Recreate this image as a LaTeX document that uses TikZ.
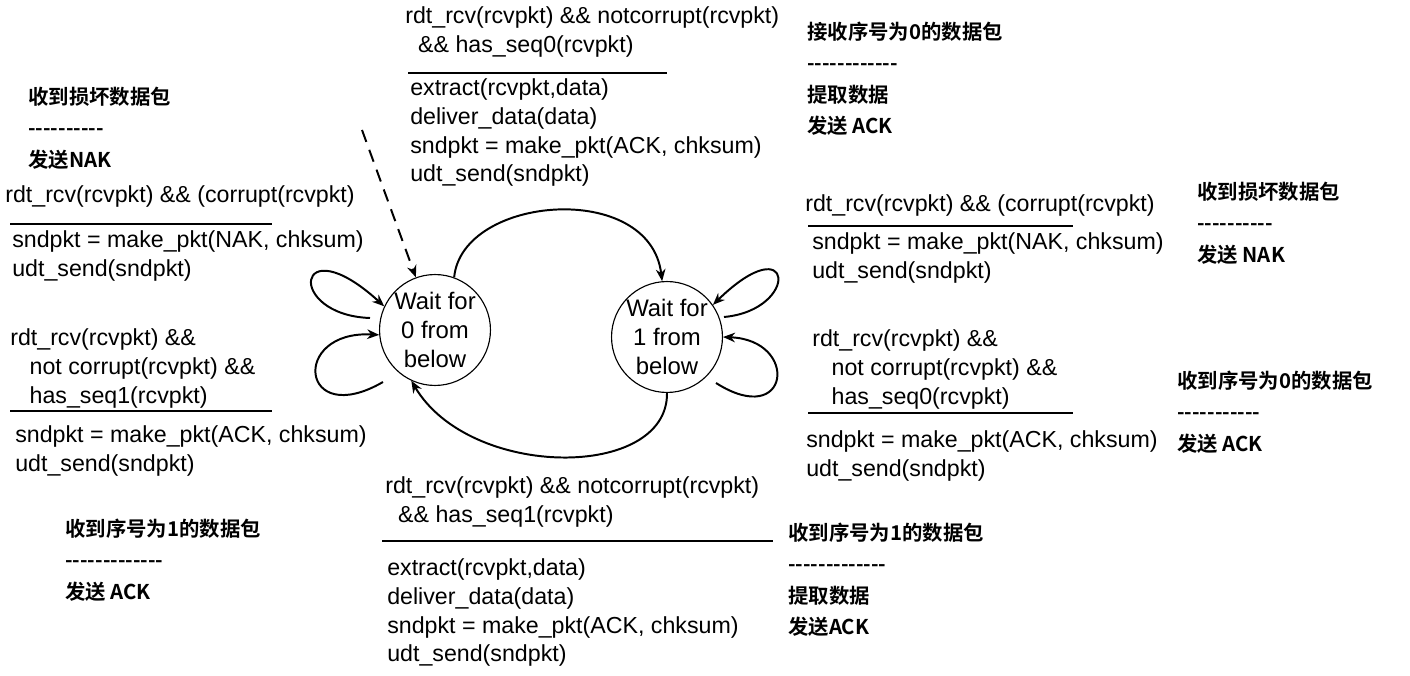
\documentclass[tikz,border=0pt]{standalone}
\usepackage{fontspec}
\setmainfont{Liberation Sans}
\newfontfamily\cjk{Noto Sans CJK SC}[BoldFont={Noto Sans CJK SC Bold}]
\usetikzlibrary{arrows.meta, positioning}

\begin{document}
\begin{tikzpicture}[
    x=0.025cm, y=-0.025cm,
    state/.style={circle, draw, thick, minimum size=2.6cm, inner sep=0pt, align=center, font=\fontsize{17}{20.5}\selectfont},
    code/.style={anchor=north west, align=left, inner sep=0pt, font=\fontsize{16.5}{20.6}\selectfont},
    note/.style={anchor=north west, align=left, inner sep=0pt, font=\cjk\bfseries\fontsize{14.5}{22.2}\selectfont},
    rule/.style={line width=1.6pt},
    arrow/.style={-{Stealth[length=3mm, width=2.4mm]}, line width=1.4pt}
]
\useasboundingbox (0,0) rectangle (1410,676);

% States
\node[state] (w0) at (435,330) {Wait for\\0 from\\below};
\node[state] (w1) at (667,337) {Wait for\\1 from\\below};

% Top transition
\node[code] (t0) at (405,6) {rdt\_rcv(rcvpkt) \&\& notcorrupt(rcvpkt)\\\ \ \&\& has\_seq0(rcvpkt)};
\draw[rule] (408,73) -- (667,73);
\node[code] (t0a) at (410,78) {extract(rcvpkt,data)\\deliver\_data(data)\\sndpkt = make\_pkt(ACK, chksum)\\udt\_send(sndpkt)};
\node[note] (n0) at (807,22) {接收序号为0的数据包\\------------\\提取数据\\发送 ACK};

% Left transitions
\node[note] (nl0) at (28,87) {收到损坏数据包\\----------\\发送NAK};
\node[code] (l0) at (5,185) {rdt\_rcv(rcvpkt) \&\& (corrupt(rcvpkt)};
\draw[rule] (10,224) -- (272,224);
\node[code] (l0a) at (12,230) {sndpkt = make\_pkt(NAK, chksum)\\udt\_send(sndpkt)};
\node[code] (l1) at (10,328) {rdt\_rcv(rcvpkt) \&\&\\\ \ \ not corrupt(rcvpkt) \&\&\\\ \ \ has\_seq1(rcvpkt)};
\draw[rule] (10,411) -- (272,411);
\node[code] (l1a) at (15,425) {sndpkt = make\_pkt(ACK, chksum)\\udt\_send(sndpkt)};
\node[note] (nl1) at (65,519) {收到序号为1的数据包\\-------------\\发送 ACK};

% Right transitions
\node[code] (r0) at (805,194) {rdt\_rcv(rcvpkt) \&\& (corrupt(rcvpkt)};
\draw[rule] (808,226) -- (1073,226);
\node[code] (r0a) at (812,232) {sndpkt = make\_pkt(NAK, chksum)\\udt\_send(sndpkt)};
\node[note] (nr0) at (1197,182) {收到损坏数据包\\----------\\发送 NAK};
\node[code] (r1) at (812,329) {rdt\_rcv(rcvpkt) \&\&\\\ \ \ not corrupt(rcvpkt) \&\&\\\ \ \ has\_seq0(rcvpkt)};
\draw[rule] (808,413) -- (1073,413);
\node[code] (r1a) at (806,430) {sndpkt = make\_pkt(ACK, chksum)\\udt\_send(sndpkt)};
\node[note] (nr1) at (1177,371) {收到序号为0的数据包\\-----------\\发送 ACK};

% Bottom transition
\node[code] (b0) at (385,476) {rdt\_rcv(rcvpkt) \&\& notcorrupt(rcvpkt)\\\ \ \&\& has\_seq1(rcvpkt)};
\draw[rule] (382,541) -- (773,541);
\node[code] (b0a) at (387,558) {extract(rcvpkt,data)\\deliver\_data(data)\\sndpkt = make\_pkt(ACK, chksum)\\udt\_send(sndpkt)};
\node[note] (nb0) at (788,523) {收到序号为1的数据包\\-------------\\提取数据\\发送ACK};

% Arrows
\coordinate (init) at (362,130);
\draw[arrow, dashed, dash pattern=on 9pt off 6pt] (init) -- (w0.110);
\draw[arrow] (w0.70) .. controls (462,195) and (650,180) .. (w1.95);
\draw[arrow] (w1.270) .. controls (668,480) and (470,480) .. (w0.245);
\draw[arrow] (370,318) .. controls (285,315) and (295,225) .. (w0.155);
\draw[arrow] (383,382) .. controls (300,430) and (290,330) .. (w0.185);
\draw[arrow] (724,317) .. controls (800,310) and (795,225) .. (w1.35);
\draw[arrow] (716,383) .. controls (790,430) and (800,340) .. (w1.0);
\end{tikzpicture}
\end{document}
